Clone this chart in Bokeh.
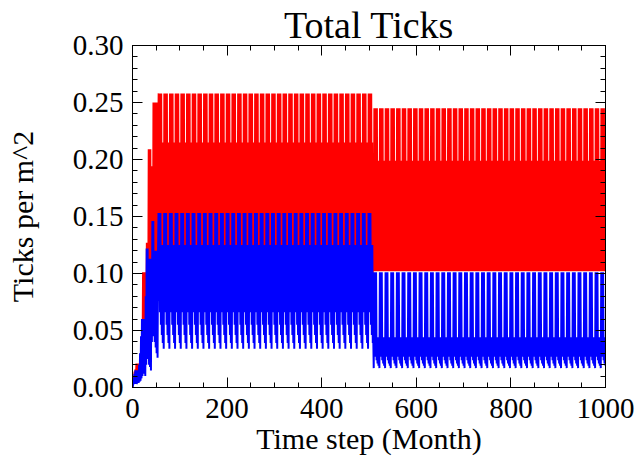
import numpy as np
from bokeh.plotting import figure
from bokeh.models import LinearAxis, FixedTicker, NumeralTickFormatter, Range1d, CustomJSTickFormatter
from bokeh.embed import file_html
from bokeh.resources import INLINE

# ---- data (ticks per m^2), monthly time steps 0..1000 ----
n_months = 1001
phase1_start = 55      # first month of the steady seasonal cycle
phase2_start = 509     # month at which the regime changes
phase2_anchor = 511    # month aligned with cycle index 0 in phase 2

# spin-up, months 0..54
spin_red = [0.000, 0.004, 0.010, 0.005, 0.014, 0.006, 0.016, 0.008, 0.021, 0.010,
            0.021, 0.010, 0.021, 0.010, 0.021, 0.012, 0.021, 0.015, 0.039, 0.020,
            0.039, 0.030, 0.101, 0.040, 0.101, 0.045, 0.101, 0.050, 0.101, 0.060,
            0.127, 0.065, 0.127, 0.070, 0.209, 0.080, 0.209, 0.085, 0.209, 0.090,
            0.194, 0.095, 0.194, 0.100, 0.250, 0.100, 0.250, 0.100, 0.250, 0.100,
            0.250, 0.100, 0.250, 0.100, 0.215]
spin_blue = [0.000, 0.002, 0.008, 0.003, 0.012, 0.004, 0.015, 0.003, 0.015, 0.003,
             0.012, 0.004, 0.015, 0.004, 0.020, 0.005, 0.030, 0.006, 0.045, 0.008,
             0.060, 0.010, 0.060, 0.015, 0.055, 0.012, 0.060, 0.010, 0.080, 0.020,
             0.122, 0.030, 0.122, 0.025, 0.110, 0.020, 0.113, 0.018, 0.113, 0.015,
             0.113, 0.040, 0.146, 0.050, 0.146, 0.045, 0.120, 0.040, 0.120, 0.035,
             0.120, 0.030, 0.120, 0.026, 0.120]

# steady seasonal cycle before the change (12 months)
cycle1_red = [0.258, 0.100, 0.258, 0.100, 0.258, 0.100, 0.258, 0.100, 0.215, 0.100, 0.215, 0.100]
cycle1_blue = [0.153, 0.076, 0.153, 0.066, 0.153, 0.055, 0.125, 0.046, 0.125, 0.039, 0.125, 0.034]

# steady seasonal cycle after the change (12 months)
cycle2_red = [0.245, 0.102, 0.245, 0.102, 0.245, 0.102, 0.245, 0.102, 0.199, 0.102, 0.199, 0.102]
cycle2_blue = [0.101, 0.030, 0.101, 0.027, 0.101, 0.024, 0.044, 0.021, 0.044, 0.019, 0.044, 0.017]

x_ticks = [0, 200, 400, 600, 800, 1000]
y_ticks = [0.00, 0.05, 0.10, 0.15, 0.20, 0.25, 0.30]


def build(spin, c1, c2):
    out = []
    for m in range(n_months):
        if m < phase1_start:
            out.append(spin[m])
        elif m < phase2_start:
            out.append(c1[(m - phase1_start) % 12])
        else:
            out.append(c2[(m - phase2_anchor) % 12])
    return out


months = list(range(n_months))
red = build(spin_red, cycle1_red, cycle2_red)
blue = build(spin_blue, cycle1_blue, cycle2_blue)

FONT = "Liberation Serif"

p = figure(width=641, height=463, output_backend="svg", toolbar_location=None,
           x_range=Range1d(0, 1000), y_range=Range1d(0, 0.30),
           min_border_left=132, min_border_right=36, min_border_top=45, min_border_bottom=76,
           title="Total Ticks")
p.title.align = "center"
p.title.text_font = FONT
p.title.text_font_size = "38px"
p.title.text_font_style = "normal"
p.title.text_color = "black"
p.title.standoff = 0
p.title.offset = 0

p.line(months, red, line_color="#ff0000", line_width=1.7)
p.line(months, blue, line_color="#0000ff", line_width=2.0)

p.xgrid.visible = False
p.ygrid.visible = False
p.outline_line_color = "black"
p.outline_line_width = 1
p.background_fill_color = "white"
p.border_fill_color = "white"

xt = FixedTicker(ticks=x_ticks, minor_ticks=list(range(0, 1001, 50)))
yt = FixedTicker(ticks=y_ticks, minor_ticks=[i / 100 for i in range(0, 31)])


def style(ax, labels=True):
    ax.axis_line_color = "black"
    ax.major_tick_line_color = "black"
    ax.minor_tick_line_color = "black"
    ax.major_tick_in = 10
    ax.major_tick_out = 0
    ax.minor_tick_in = 5
    ax.minor_tick_out = 0
    ax.major_label_text_font = FONT
    ax.axis_label_text_font = FONT
    ax.axis_label_text_font_style = "normal"
    ax.axis_label_text_color = "black"
    if labels:
        ax.major_label_text_color = "black"
        ax.major_label_text_font_size = "29px"
        ax.axis_label_text_font_size = "30px"
    else:
        ax.formatter = CustomJSTickFormatter(code="return '';")
        ax.major_label_text_color = None
        ax.major_label_text_font_size = "1px"
        ax.major_label_standoff = 0


xa = p.xaxis[0]
xa.ticker = xt
style(xa)
xa.axis_label = "Time step (Month)"
xa.major_label_standoff = 11
xa.axis_label_standoff = 1

ya = p.yaxis[0]
ya.ticker = yt
style(ya)
ya.formatter = NumeralTickFormatter(format="0.00")
ya.axis_label = "Ticks per m^2"
ya.major_label_standoff = 9
ya.axis_label_standoff = 31

top = LinearAxis(ticker=xt)
style(top, labels=False)
p.add_layout(top, "above")
right = LinearAxis(ticker=yt)
style(right, labels=False)
p.add_layout(right, "right")

open("out.html", "w").write(file_html(p, INLINE))
